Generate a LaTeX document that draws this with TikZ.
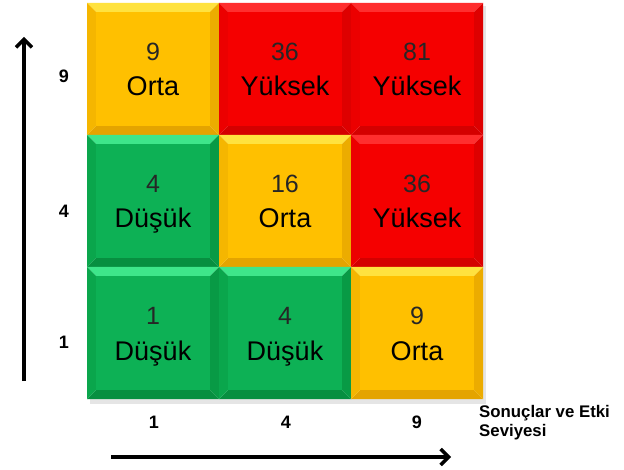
\documentclass[tikz,border=0pt]{standalone}
\usepackage{fontspec}
\setmainfont{Liberation Sans}
\usetikzlibrary{arrows.meta}
\definecolor{yF}{HTML}{FFC000}
\definecolor{yT}{HTML}{FFE23F}
\definecolor{yL}{HTML}{F5B600}
\definecolor{yR}{HTML}{ECAC00}
\definecolor{yB}{HTML}{E4A400}
\definecolor{rF}{HTML}{F50000}
\definecolor{rT}{HTML}{FF2E2E}
\definecolor{rL}{HTML}{EC0000}
\definecolor{rR}{HTML}{DE0000}
\definecolor{rB}{HTML}{D40000}
\definecolor{gF}{HTML}{0DB155}
\definecolor{gT}{HTML}{3EE68A}
\definecolor{gL}{HTML}{0AA64C}
\definecolor{gR}{HTML}{089A45}
\definecolor{gB}{HTML}{078F40}
\tikzset{
  face/.style={rectangle, minimum width=114pt, minimum height=114pt, inner sep=0pt, draw=none},
  numtxt/.style={anchor=base, inner sep=0pt, text=black!85, font=\fontsize{25}{30}\selectfont},
  wordtxt/.style={anchor=base, inner sep=0pt, text=black, font=\fontsize{27}{32}\selectfont},
  ticktxt/.style={inner sep=0pt, font=\bfseries\fontsize{18}{21}\selectfont},
  axis/.style={line width=3.4pt, -{Straight Barb[length=8pt,width=16pt,line width=3.4pt]}},
}
\newcommand\riskcell[6]{%
  \fill[#3T] (#1,#2) -- ++(132,0) -- ++(-9,9) -- ++(-114,0) -- cycle;
  \fill[#3B] (#1,#2+132) -- ++(132,0) -- ++(-9,-9) -- ++(-114,0) -- cycle;
  \fill[#3L] (#1,#2) -- ++(9,9) -- ++(0,114) -- ++(-9,9) -- cycle;
  \fill[#3R] (#1+132,#2) -- ++(-9,9) -- ++(0,114) -- ++(9,9) -- cycle;
  \node[face, fill=#3F] (#6) at (#1+66,#2+66) {};
  \node[numtxt] (#6n) at (#1+66,#2+58) {#4};
  \node[wordtxt] (#6w) at (#1+66,#2+93) {#5};
}
\begin{document}
\begin{tikzpicture}[x=1pt,y=-1pt]
\useasboundingbox (0,0) rectangle (624,470);
\fill[white] (0,0) rectangle (624,470);
% soft shadow
\fill[black!10] (90,399) rectangle (486,404);
\fill[black!10] (483,6) rectangle (486,404);
\riskcell{87}{3}{y}{9}{Orta}{c13}
\riskcell{219}{3}{r}{36}{Yüksek}{c23}
\riskcell{351}{3}{r}{81}{Yüksek}{c33}
\riskcell{87}{135}{g}{4}{Düşük}{c12}
\riskcell{219}{135}{y}{16}{Orta}{c22}
\riskcell{351}{135}{r}{36}{Yüksek}{c32}
\riskcell{87}{267}{g}{1}{Düşük}{c11}
\riskcell{219}{267}{g}{4}{Düşük}{c21}
\riskcell{351}{267}{y}{9}{Orta}{c31}
% vertical axis
\coordinate (v0) at (24,381);
\coordinate (v1) at (24,37);
\draw[axis] (v0) -- (v1);
\node[ticktxt] (ly9) at (64,76) {9};
\node[ticktxt] (ly4) at (64,211) {4};
\node[ticktxt] (ly1) at (64,342) {1};
% horizontal axis
\coordinate (h0) at (111,457);
\coordinate (h1) at (451,457);
\draw[axis] (h0) -- (h1);
\node[ticktxt] (lx1) at (154,422) {1};
\node[ticktxt] (lx4) at (286,422) {4};
\node[ticktxt] (lx9) at (417,422) {9};
\node[anchor=base west, inner sep=0pt, align=left, font=\bfseries\fontsize{16.8}{19}\selectfont] (xlab) at (479,436.7) {Sonuçlar ve Etki\\Seviyesi};
\end{tikzpicture}
\end{document}
